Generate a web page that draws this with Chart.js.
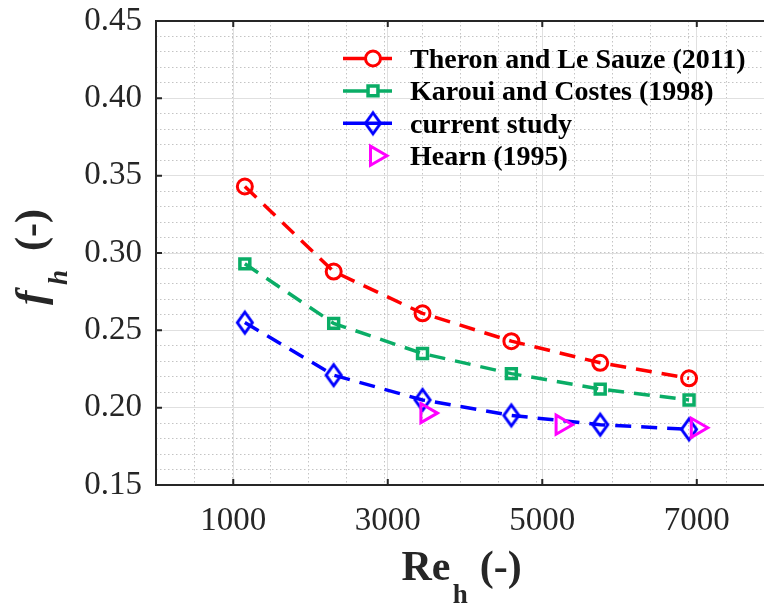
<!DOCTYPE html>
<html>
<head>
<meta charset="utf-8">
<script src="https://cdn.jsdelivr.net/npm/chart.js@4.4.1/dist/chart.umd.min.js"></script>
<style>
  html, body { margin: 0; padding: 0; background: #fff; overflow: hidden; }
  canvas { display: block; }
</style>
</head>
<body>
<canvas id="fhChart" width="764" height="605"></canvas>
<script>
// Datos
const reH = [1150, 2300, 3450, 4600, 5750, 6900];
const fhTheron = [0.343, 0.288, 0.261, 0.243, 0.229, 0.219];
const fhKaroui = [0.293, 0.2545, 0.235, 0.222, 0.212, 0.205];
const fhCurrent = [0.255, 0.221, 0.205, 0.195, 0.189, 0.186];
const reHearn = [3500, 5250, 7000];
const fhHearn = [0.1965, 0.189, 0.187];

const seriesLabels = [
  "Theron and Le Sauze (2011)",
  "Karoui and Costes (1998)",
  "current study",
  "Hearn (1995)",
];

const xTicks = [1000, 3000, 5000, 7000];
const yTicks = [0.15, 0.2, 0.25, 0.3, 0.35, 0.4, 0.45];
const xRange = [0, 7870];
const yRange = [0.15, 0.45];

const axisColor = "#262626";
const serif = "'Liberation Serif', 'Times New Roman', serif";

const toPoints = (xs, ys) => xs.map((x, i) => ({ x, y: ys[i] }));

// Rombo alargado (como el marcador 'd' de MATLAB)
const makeDiamond = (color) => {
  const c = document.createElement("canvas");
  c.width = 22;
  c.height = 28;
  const g = c.getContext("2d");
  g.strokeStyle = color;
  g.lineWidth = 3;
  g.beginPath();
  g.moveTo(11, 3.5);
  g.lineTo(18.5, 14);
  g.lineTo(11, 24.5);
  g.lineTo(3.5, 14);
  g.closePath();
  g.stroke();
  return c;
};

const lineDash = [16, 10];

const datasets = [
  {
    label: seriesLabels[0],
    data: toPoints(reH, fhTheron),
    showLine: true,
    borderColor: "#ff0000",
    borderWidth: 3.5,
    borderDash: lineDash,
    pointStyle: "circle",
    pointRadius: 7.5,
    pointBorderWidth: 3,
    pointBorderColor: "#ff0000",
    pointBackgroundColor: "rgba(0,0,0,0)",
    order: 3,
  },
  {
    label: seriesLabels[1],
    data: toPoints(reH, fhKaroui),
    showLine: true,
    borderColor: "#0aad66",
    borderWidth: 3.5,
    borderDash: lineDash,
    pointStyle: "rect",
    pointRadius: 7,
    pointBorderWidth: 3.5,
    pointBorderColor: "#0aad66",
    pointBackgroundColor: "rgba(0,0,0,0)",
    order: 2,
  },
  {
    label: seriesLabels[2],
    data: toPoints(reH, fhCurrent),
    showLine: true,
    borderColor: "#0000ff",
    borderWidth: 3.5,
    borderDash: lineDash,
    pointStyle: makeDiamond("#0000ff"),
    pointRadius: 10,
    pointBorderColor: "#0000ff",
    pointBackgroundColor: "rgba(0,0,0,0)",
    order: 1,
  },
  {
    label: seriesLabels[3],
    data: toPoints(reHearn, fhHearn),
    showLine: false,
    borderColor: "#ff00ff",
    pointStyle: "triangle",
    pointRotation: 90,
    pointRadius: 11,
    pointBorderWidth: 3,
    pointBorderColor: "#ff00ff",
    pointBackgroundColor: "rgba(0,0,0,0)",
    order: 0,
  },
];

// dibuja texto alineando el borde izquierdo de la tinta en x, devuelve el borde derecho
const inkText = (ctx, txt, x, y) => {
  const m = ctx.measureText(txt);
  ctx.fillText(txt, x + m.actualBoundingBoxLeft, y);
  return x + m.actualBoundingBoxLeft + m.actualBoundingBoxRight;
};

// Marco, ticks hacia dentro, titulos y leyenda
const framePlugin = {
  id: "frame",
  afterDraw(chart) {
    const { ctx, chartArea: a, scales } = chart;
    ctx.save();
    ctx.strokeStyle = axisColor;
    ctx.lineWidth = 2;
    ctx.beginPath();
    ctx.moveTo(a.left - 1, a.top);
    ctx.lineTo(a.right + 2, a.top);
    ctx.stroke();

    const tl = 6;
    ctx.beginPath();
    xTicks.forEach((v) => {
      const px = scales.x.getPixelForValue(v);
      ctx.moveTo(px, a.bottom);
      ctx.lineTo(px, a.bottom - tl);
      ctx.moveTo(px, a.top);
      ctx.lineTo(px, a.top + tl);
    });
    yTicks.forEach((v) => {
      const py = scales.y.getPixelForValue(v);
      ctx.moveTo(a.left, py);
      ctx.lineTo(a.left + tl, py);
    });
    ctx.stroke();

    // Titulo eje x: Re_h (-)
    ctx.fillStyle = axisColor;
    ctx.textBaseline = "alphabetic";
    ctx.textAlign = "left";
    const big = "bold 42px " + serif;
    const sub = "bold 27px " + serif;
    ctx.font = big;
    let xe = inkText(ctx, "Re", 401.5, 580);
    ctx.font = sub;
    xe = inkText(ctx, "h", xe + 3, 603);
    ctx.font = big;
    inkText(ctx, "(-)", xe + 13, 580);

    // Titulo eje y: f_h (-)  (texto girado, origen en el borde inferior de la f)
    ctx.save();
    ctx.translate(44, 305);
    ctx.rotate(-Math.PI / 2);
    ctx.font = "italic bold 43px " + serif;
    inkText(ctx, "f", 0, 0);
    ctx.font = "italic bold 27px " + serif;
    inkText(ctx, "h", 20, 23);
    ctx.font = "bold 42px " + serif;
    inkText(ctx, "(-)", 55, 0);
    ctx.restore();

    // Leyenda
    const lx0 = a.left + 187;
    const lx1 = a.left + 236;
    const mx = a.left + 217;
    const tx = a.left + 254;
    ctx.font = "bold 28px " + serif;
    chart.data.datasets.forEach((ds, i) => {
      const ry = a.top + 37.5 + i * 32.4;
      if (ds.showLine) {
        ctx.strokeStyle = ds.borderColor;
        ctx.lineWidth = 3.5;
        ctx.setLineDash([]);
        ctx.beginPath();
        ctx.moveTo(lx0, ry);
        ctx.lineTo(lx1, ry);
        ctx.stroke();
      }
      ctx.fillStyle = "#ffffff";
      ctx.strokeStyle = ds.pointBorderColor;
      ctx.lineWidth = ds.pointBorderWidth || 3;
      Chart.helpers.drawPoint(
        ctx,
        {
          pointStyle: ds.pointStyle,
          rotation: ds.pointRotation || 0,
          radius: ds.pointRadius,
          borderWidth: ds.pointBorderWidth || 3,
        },
        i === 3 ? mx + 3 : mx,
        ry
      );
      ctx.fillStyle = "#000000";
      ctx.fillText(ds.label, tx, ry + 9.5);
    });
    ctx.restore();
  },
};

const noPad = (s) => {
  s.paddingTop = 0;
  s.paddingBottom = 0;
  s.paddingLeft = 0;
  s.paddingRight = 0;
};

const ctx = document.getElementById("fhChart").getContext("2d");

new Chart(ctx, {
  type: "scatter",
  data: { datasets },
  options: {
    responsive: false,
    animation: false,
    layout: { autoPadding: false, padding: { top: 21, right: 0, bottom: 0, left: 0 } },
    plugins: {
      legend: { display: false },
      tooltip: { enabled: false },
    },
    scales: {
      xMinor: {
        type: "linear",
        position: "bottom",
        min: xRange[0],
        max: xRange[1],
        ticks: { display: false, stepSize: 500, includeBounds: false },
        grid: { color: "#c4c4c4", lineWidth: 1, drawTicks: false },
        border: { display: false, dash: [1.5, 2.5] },
        afterFit: (s) => { s.height = 0; noPad(s); },
      },
      yMinor: {
        type: "linear",
        position: "left",
        min: yRange[0],
        max: yRange[1],
        ticks: { display: false, stepSize: 0.01, includeBounds: false },
        grid: { color: "#c4c4c4", lineWidth: 1, drawTicks: false },
        border: { display: false, dash: [1.5, 2.5] },
        afterFit: (s) => { s.width = 0; noPad(s); },
      },
      x: {
        type: "linear",
        position: "bottom",
        min: xRange[0],
        max: xRange[1],
        afterBuildTicks: (s) => { s.ticks = xTicks.map((v) => ({ value: v })); },
        ticks: {
          color: axisColor,
          padding: 17,
          font: { family: serif, size: 33 },
          callback: (v) => String(v),
        },
        grid: { color: "#e0e0e0", lineWidth: 1, drawTicks: false },
        border: { display: true, color: axisColor, width: 2 },
        afterFit: (s) => { s.height = 120; noPad(s); },
      },
      y: {
        type: "linear",
        position: "left",
        min: yRange[0],
        max: yRange[1],
        afterBuildTicks: (s) => { s.ticks = yTicks.map((v) => ({ value: v })); },
        ticks: {
          color: axisColor,
          padding: 14,
          font: { family: serif, size: 33 },
          callback: (v) => Number(v).toFixed(2),
        },
        grid: { color: "#e0e0e0", lineWidth: 1, drawTicks: false },
        border: { display: true, color: axisColor, width: 2 },
        afterFit: (s) => { s.width = 156; noPad(s); },
      },
    },
  },
  plugins: [framePlugin],
});
</script>
</body>
</html>
